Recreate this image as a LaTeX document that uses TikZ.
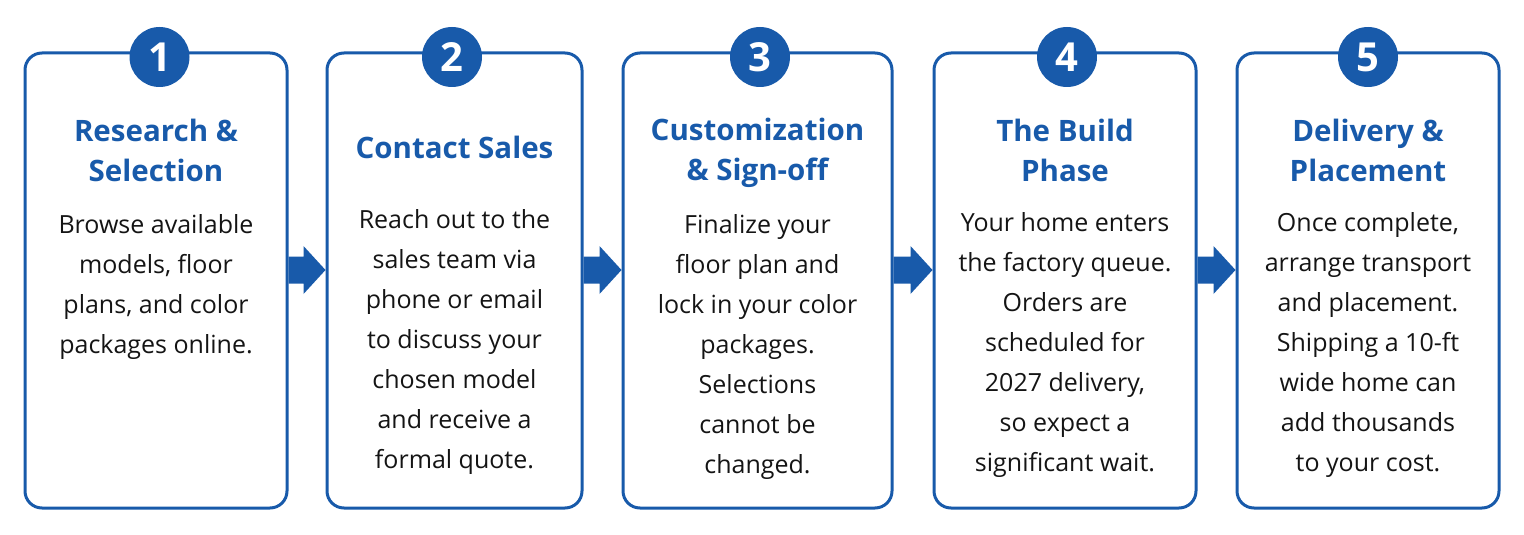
\documentclass[tikz,border=0pt]{standalone}
\usepackage{fontspec}
\setmainfont{Open Sans}
\usetikzlibrary{positioning,calc}
\definecolor{flowblue}{RGB}{24,90,170}
\definecolor{bodyink}{RGB}{20,20,20}
\tikzset{
  stepbox/.style={draw=flowblue, line width=3pt, rounded corners=17pt,
    minimum height=455pt, inner sep=0pt},
  stepnum/.style={circle, fill=flowblue, minimum size=60pt, inner sep=0pt,
    text=white, font=\fontsize{40}{40}\selectfont\bfseries},
  steptitle/.style={text=flowblue, align=center, inner sep=0pt,
    font=\fontsize{29.5}{40}\selectfont\bfseries},
  stepbody/.style={text=bodyink, align=center, inner sep=0pt,
    font=\fontsize{25}{40}\selectfont},
}
\begin{document}
\begin{tikzpicture}[x=1pt,y=-1pt]
\useasboundingbox (0,0) rectangle (1524,535);
% boxes
\node[stepbox, minimum width=262pt] (b1) at (156,280.5) {};
\node[stepbox, minimum width=255pt] (b2) at (454.5,280.5) {};
\node[stepbox, minimum width=269pt] (b3) at (757.5,280.5) {};
\node[stepbox, minimum width=262pt] (b4) at (1065,280.5) {};
\node[stepbox, minimum width=262pt] (b5) at (1368,280.5) {};
% numbers
\node[stepnum] (n1) at (159.5,57) {1};
\node[stepnum] (n2) at (452,57) {2};
\node[stepnum] (n3) at (760,57) {3};
\node[stepnum] (n4) at (1067,57) {4};
\node[stepnum] (n5) at (1368,57) {5};
% titles
\node[steptitle, below=67pt of b1.north] (t1) {Research \&\\Selection};
\node[steptitle, below=84pt of b2.north] (t2) {Contact Sales};
\node[steptitle, below=66pt of b3.north] (t3) {Customization\\\& Sign-off};
\node[steptitle, below=67pt of b4.north] (t4) {The Build\\Phase};
\node[steptitle, below=67pt of b5.north] (t5) {Delivery \&\\Placement};
% texts
\node[stepbody, below=163pt of b1.north] (d1) {Browse available\\models, floor\\plans, and color\\packages online.};
\node[stepbody, below=158pt of b2.north] (d2) {Reach out to the\\sales team via\\phone or email\\to discuss your\\chosen model\\and receive a\\formal quote.};
\node[stepbody, below=163pt of b3.north] (d3) {Finalize your\\floor plan and\\lock in your color\\packages.\\Selections\\cannot be\\changed.};
\node[stepbody, below=161pt of b4.north] (d4) {Your home enters\\the factory queue.\\Orders are\\scheduled for\\2027 delivery,\\so expect a\\significant wait.};
\node[stepbody, below=161pt of b5.north] (d5) {Once complete,\\arrange transport\\and placement.\\Shipping a 10-ft\\wide home can\\add thousands\\to your cost.};
% arrows
\foreach \a/\b in {b1/b2,b2/b3,b3/b4,b4/b5}{
  \coordinate (s) at ($(\a.east)+(0,-10.5)$);
  \coordinate (e) at ($(\b.west)+(0,-10.5)$);
  \fill[flowblue] ($(s)+(0,-13.5)$) -- ($(e)+(-22,-13.5)$) -- ($(e)+(-22,-24)$)
    -- (e) -- ($(e)+(-22,24)$) -- ($(e)+(-22,13.5)$) -- ($(s)+(0,13.5)$) -- cycle;
}
\end{tikzpicture}
\end{document}
